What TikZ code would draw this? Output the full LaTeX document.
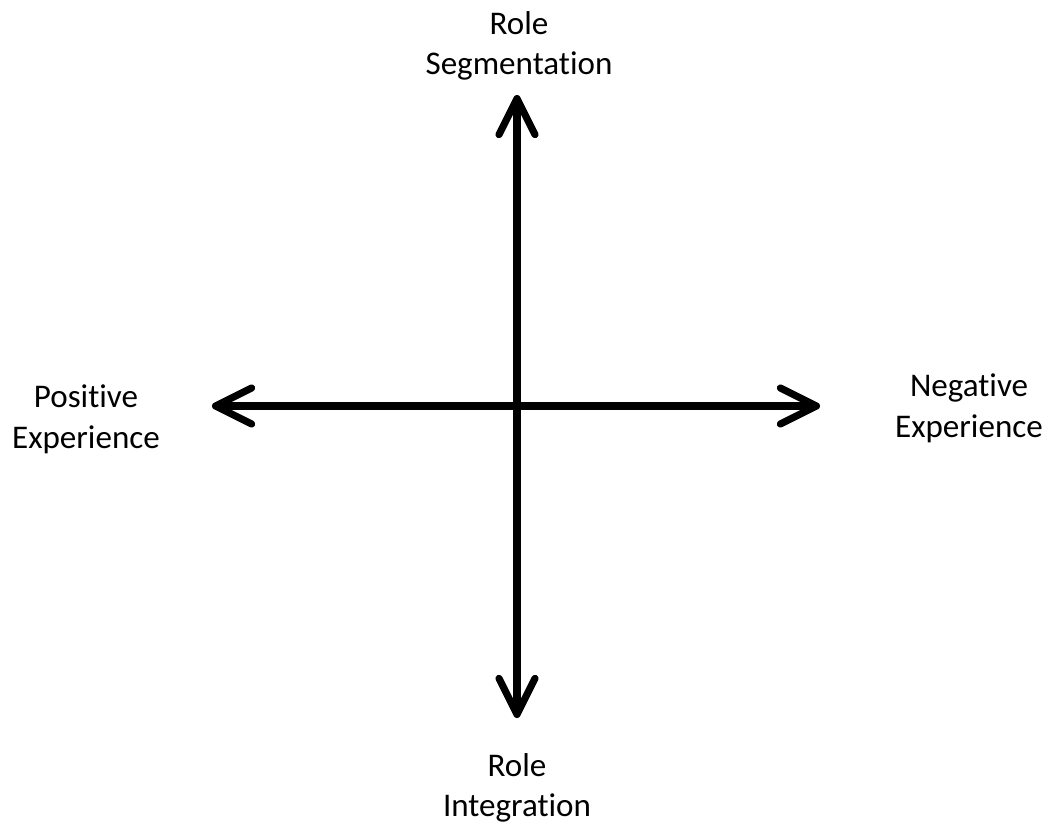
\documentclass[tikz,border=0pt]{standalone}
\usepackage{fontspec}
\setmainfont[Ligatures=NoCommon]{Carlito}
\usetikzlibrary{arrows.meta}
\begin{document}
\begin{tikzpicture}[x=0.75pt,y=-0.75pt,
  lbl/.style={align=center,inner sep=0pt,font=\fontsize{24.8}{30.5}\selectfont},
  axis/.style={line width=5.4pt,line cap=round,
    {Straight Barb[length=27pt,width=27pt,round]}-{Straight Barb[length=27pt,width=27pt,round]}}]
\useasboundingbox (0,0) rectangle (1050,828);
\coordinate (top) at (517,95);
\coordinate (bot) at (517,718);
\coordinate (lft) at (212,406);
\coordinate (rgt) at (820,406);
\draw[axis] (top) -- (bot);
\draw[axis] (lft) -- (rgt);
\node[lbl] (seg) at (519,46) {Role\\Segmentation};
\node[lbl] (int) at (517,788) {Role\\Integration};
\node[lbl] (pos) at (86,419) {Positive\\Experience};
\node[lbl] (neg) at (969,408) {Negative\\Experience};
\end{tikzpicture}
\end{document}
